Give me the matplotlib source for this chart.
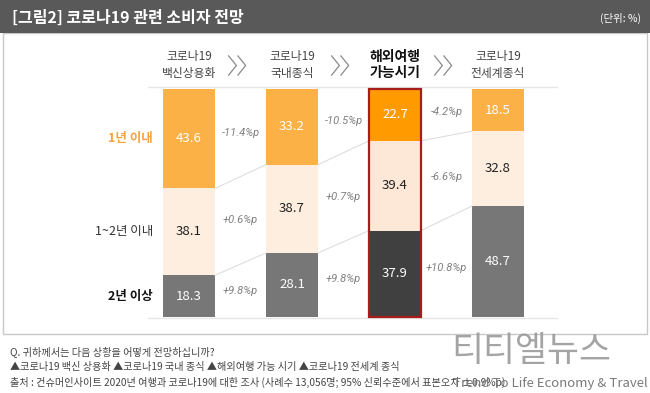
import numpy as np
import matplotlib.pyplot as plt
from matplotlib.patches import Rectangle

plt.rcParams['font.family'] = ['Noto Sans CJK KR', 'DejaVu Sans']

# 데이터
categories = ['코로나19\n백신상용화', '코로나19\n국내종식', '해외여행\n가능시기', '코로나19\n전세계종식']
row_labels = ['1년 이내', '1~2년 이내', '2년 이상']
within_1y = [43.6, 33.2, 22.7, 18.5]
within_1_2y = [38.1, 38.7, 39.4, 32.8]
over_2y = [18.3, 28.1, 37.9, 48.7]
delta_1y = ['-11.4%p', '-10.5%p', '-4.2%p']
delta_1_2y = ['+0.6%p', '+0.7%p', '-6.6%p']
delta_2y = ['+9.8%p', '+9.8%p', '+10.8%p']
highlight = 2

W, H = 650, 393
fig = plt.figure(figsize=(6.5, 3.93), dpi=100)
fig.patch.set_facecolor('white')

# 배경/프레임용 축 (픽셀 좌표)
bg = fig.add_axes([0, 0, 1, 1])
bg.set_xlim(0, W)
bg.set_ylim(H, 0)
bg.axis('off')
bg.add_patch(Rectangle((3, 33), 644, 301, facecolor='white', edgecolor='#c8c8c8', lw=1))
bg.add_patch(Rectangle((0, 0), W, 33, facecolor='#595959', edgecolor='none'))
bg.text(12, 18, '[그림2] 코로나19 관련 소비자 전망', color='white', fontsize=11.5,
        weight='bold', va='center', ha='left')
bg.text(641, 18, '(단위: %)', color='white', fontsize=7.5, va='center', ha='right')

notes = ['Q. 귀하께서는 다음 상황을 어떻게 전망하십니까?',
         '▲코로나19 백신 상용화 ▲코로나19 국내 종식 ▲해외여행 가능 시기 ▲코로나19 전세계 종식',
         '출처 : 컨슈머인사이트 2020년 여행과 코로나19에 대한 조사 (사례수 13,056명; 95% 신뢰수준에서 표본오차 ±0.9%p)']
for i, n in enumerate(notes):
    bg.text(10, 352 + i * 15, n, color='#444444', fontsize=7.3, va='center', ha='left')
bg.text(531, 351, '티티엘뉴스', color='#9a9a9a', fontsize=25, va='center', ha='center',
        alpha=0.9, zorder=5)
bg.text(648, 383, 'Trend To Life Economy & Travel', color='#7a7a7a', fontsize=9.5,
        va='center', ha='right', zorder=5)

# 막대 축: 픽셀 148~557, 89~317
x0, x1, y0, y1 = 148, 557, 89, 317
ax = fig.add_axes([x0 / W, 1 - y1 / H, (x1 - x0) / W, (y1 - y0) / H])
step = 103.0
ax.set_xlim((x0 - 189) / step, (x1 - 189) / step)
ax.set_ylim(100, 0)
ax.axis('off')

x = np.arange(len(categories))
w = 0.505
top_c = ['#fbb146', '#fbb146', '#ff9a00', '#fbb146']
mid_c = ['#fdeedf', '#fdeedf', '#fde7d6', '#fdeedf']
bot_c = ['#777777', '#777777', '#404040', '#777777']

ax.bar(x, within_1y, w, bottom=0, color=top_c, align='center')
ax.bar(x, within_1_2y, w, bottom=within_1y, color=mid_c)
b2 = np.array(within_1y) + np.array(within_1_2y)
ax.bar(x, over_2y, w, bottom=b2, color=bot_c)
ax.bar([x[highlight]], [100], w, bottom=0, facecolor='none', edgecolor='#a81c1c',
       lw=1.6, clip_on=False, zorder=4)

# 위/아래 구분선
ax.axhline(-0.8, color='#e6e6e6', lw=1, clip_on=False)
ax.axhline(100.5, color='#e6e6e6', lw=1, clip_on=False)

# 막대 사이 연결선
for bnd in [np.array(within_1y), b2]:
    for i in range(len(x) - 1):
        ax.plot([x[i] + w / 2, x[i + 1] - w / 2], [bnd[i], bnd[i + 1]],
                color='#dedede', lw=0.8, zorder=1)

# 막대 값
segs = [(within_1y, np.zeros(4), 'white'), (within_1_2y, np.array(within_1y), '#222222'),
        (over_2y, b2, 'white')]
for vals, base, tc in segs:
    for i, v in enumerate(vals):
        ax.text(x[i], base[i] + v / 2, f'{v}', ha='center', va='center',
                color=tc, fontsize=9.5, zorder=5)

# 변화량
centers = [np.array(within_1y) / 2, np.array(within_1y) + np.array(within_1_2y) / 2,
           b2 + np.array(over_2y) / 2]
for c, labels in zip(centers, [delta_1y, delta_1_2y, delta_2y]):
    for i, lab in enumerate(labels):
        ax.text(x[i] + 0.5, (c[i] + c[i + 1]) / 2, lab, ha='center', va='center',
                color='#808080', fontsize=8, style='italic',
                family=['Roboto', 'DejaVu Sans'], clip_on=False)

# 행 라벨
row_colors = ['#f5a33b', '#333333', '#111111']
row_weights = ['bold', 'medium', 'bold']
for c, lab, col, wt in zip(centers, row_labels, row_colors, row_weights):
    ax.text(-0.35, c[0], lab, ha='right', va='center', color=col, fontsize=9,
            weight=wt, clip_on=False)

# 열 제목
for i, cat in enumerate(categories):
    if i == highlight:
        ax.text(x[i], -10.5, cat, ha='center', va='center', color='#111111',
                fontsize=10, weight='bold', linespacing=1.25, clip_on=False)
    else:
        ax.text(x[i], -10.5, cat, ha='center', va='center', color='#444444',
                fontsize=8.5, linespacing=1.45, clip_on=False)

# 화살표 (≫)
for i in range(len(x) - 1):
    xc = x[i] + 0.5
    for dx in (-0.07, 0.02):
        ax.plot([xc + dx - 0.045, xc + dx + 0.03, xc + dx - 0.045],
                [-14.5, -10.3, -6.1], color='#8a8a8a', lw=0.9, clip_on=False)

fig.savefig('out.png', dpi=100)
